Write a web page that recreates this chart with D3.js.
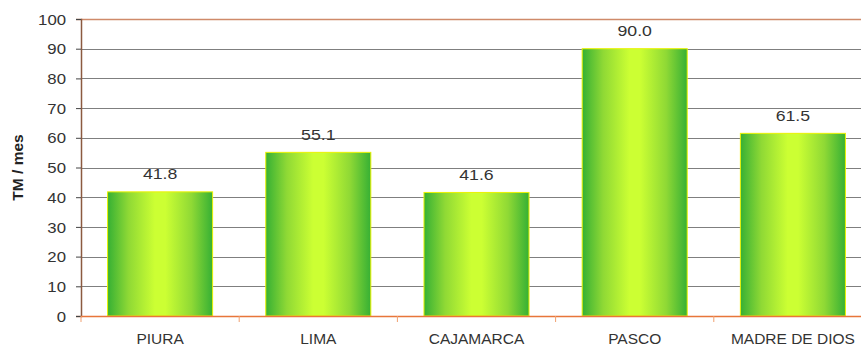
<!DOCTYPE html>
<html>
<head>
<meta charset="utf-8">
<script src="https://cdn.jsdelivr.net/npm/d3@7"></script>
<style>
  html, body { margin: 0; padding: 0; background: #fff; }
  svg { display: block; font-family: "Liberation Sans", Arial, sans-serif; }
</style>
</head>
<body>
<svg id="chart" width="861" height="346"></svg>
<script>
// Monthly production by region (TM / mes)
const regions = ["PIURA", "LIMA", "CAJAMARCA", "PASCO", "MADRE DE DIOS"];
const production = [41.8, 55.1, 41.6, 90.0, 61.5];
const yTicks = [0, 10, 20, 30, 40, 50, 60, 70, 80, 90, 100];

const svg = d3.select("#chart");
const plotLeft = 81, plotTop = 19, plotBottom = 316, plotRight = 872;

const x = d3.scaleBand().domain(regions).range([plotLeft, plotRight])
  .paddingInner(0.336).paddingOuter(0.168);
const y = d3.scaleLinear().domain([0, 100]).range([plotBottom, plotTop]);

// Place a horizontally widened text label at (px, py)
function label(sel, px, py, widen) {
  return sel.attr("x", 0).attr("y", 0)
    .attr("transform", (d, i) => `translate(${px(d, i)},${py(d, i)}) scale(${widen},1)`);
}

// Bar fill: dark green edges with a bright lime centre
const defs = svg.append("defs");
const grad = defs.append("linearGradient").attr("id", "barFill")
  .attr("x1", "0%").attr("x2", "100%").attr("y1", "0%").attr("y2", "0%");
[[0, "#36b034"], [0.2, "#8fd935"], [0.45, "#ccff33"], [0.55, "#ccff33"], [0.8, "#8fd935"], [1, "#36b034"]]
  .forEach(([o, c]) => grad.append("stop").attr("offset", o).attr("stop-color", c));

// Horizontal gridlines
svg.append("g").selectAll("line").data(yTicks.filter(t => t > 0 && t < 100)).join("line")
  .attr("x1", plotLeft).attr("x2", 861)
  .attr("y1", d => Math.round(y(d)) + 0.5).attr("y2", d => Math.round(y(d)) + 0.5)
  .attr("stroke", "#7f7f7f").attr("stroke-width", 1);

// Top border line
svg.append("line").attr("x1", plotLeft).attr("x2", 861)
  .attr("y1", Math.round(y(100)) + 0.5).attr("y2", Math.round(y(100)) + 0.5)
  .attr("stroke", "#cf8a6a").attr("stroke-width", 1.5);

// Bars
svg.append("g").selectAll("rect").data(regions).join("rect")
  .attr("x", d => x(d)).attr("width", x.bandwidth())
  .attr("y", (d, i) => y(production[i]))
  .attr("height", (d, i) => y(0) - y(production[i]))
  .attr("fill", "url(#barFill)")
  .attr("stroke", "#eaf200").attr("stroke-width", 1);

// Value labels
label(svg.append("g").selectAll("text").data(regions).join("text"),
    d => x(d) + x.bandwidth() / 2, (d, i) => y(production[i]) - 12.5, 1.18)
  .attr("text-anchor", "middle").attr("font-size", 15).attr("fill", "#333")
  .text((d, i) => production[i].toFixed(1));

// Y axis
const yAxis = svg.append("g").attr("transform", `translate(${plotLeft},0)`)
  .call(d3.axisLeft(y).tickValues(yTicks).tickSize(5).tickPadding(10));
yAxis.select(".domain").attr("stroke", "#8b5a40").attr("stroke-width", 1.5);
yAxis.selectAll(".tick line").attr("stroke", "#444");
yAxis.selectAll(".tick text")
  .attr("x", 0).attr("dy", "0.36em")
  .attr("transform", "translate(-15,0) scale(1.18,1)")
  .attr("font-size", 14.2).attr("fill", "#333")
  .attr("font-family", "Liberation Sans, Arial, sans-serif");

// X axis line and boundary ticks
const xAxis = svg.append("g").attr("transform", `translate(0,${plotBottom})`);
xAxis.append("line").attr("x1", plotLeft).attr("x2", 861).attr("y1", 0.5).attr("y2", 0.5)
  .attr("stroke", "#e8763a").attr("stroke-width", 1.5);
const bounds = regions.map(d => x(d) - x.step() * x.paddingInner() / 2);
xAxis.selectAll("line.bt").data(bounds).join("line").attr("class", "bt")
  .attr("x1", d => d).attr("x2", d => d).attr("y1", 0).attr("y2", 6)
  .attr("stroke", "#f0a070").attr("stroke-width", 1);
label(xAxis.selectAll("text").data(regions).join("text"),
    d => x(d) + x.bandwidth() / 2, () => 28, 1.07)
  .attr("text-anchor", "middle").attr("font-size", 14.5).attr("fill", "#333")
  .text(d => d);

// Y axis title
svg.append("text")
  .attr("transform", `translate(23,${(plotTop + plotBottom) / 2}) rotate(-90)`)
  .attr("text-anchor", "middle").attr("font-size", 15.5).attr("font-weight", "bold")
  .attr("fill", "#222").text("TM / mes");
</script>
</body>
</html>
